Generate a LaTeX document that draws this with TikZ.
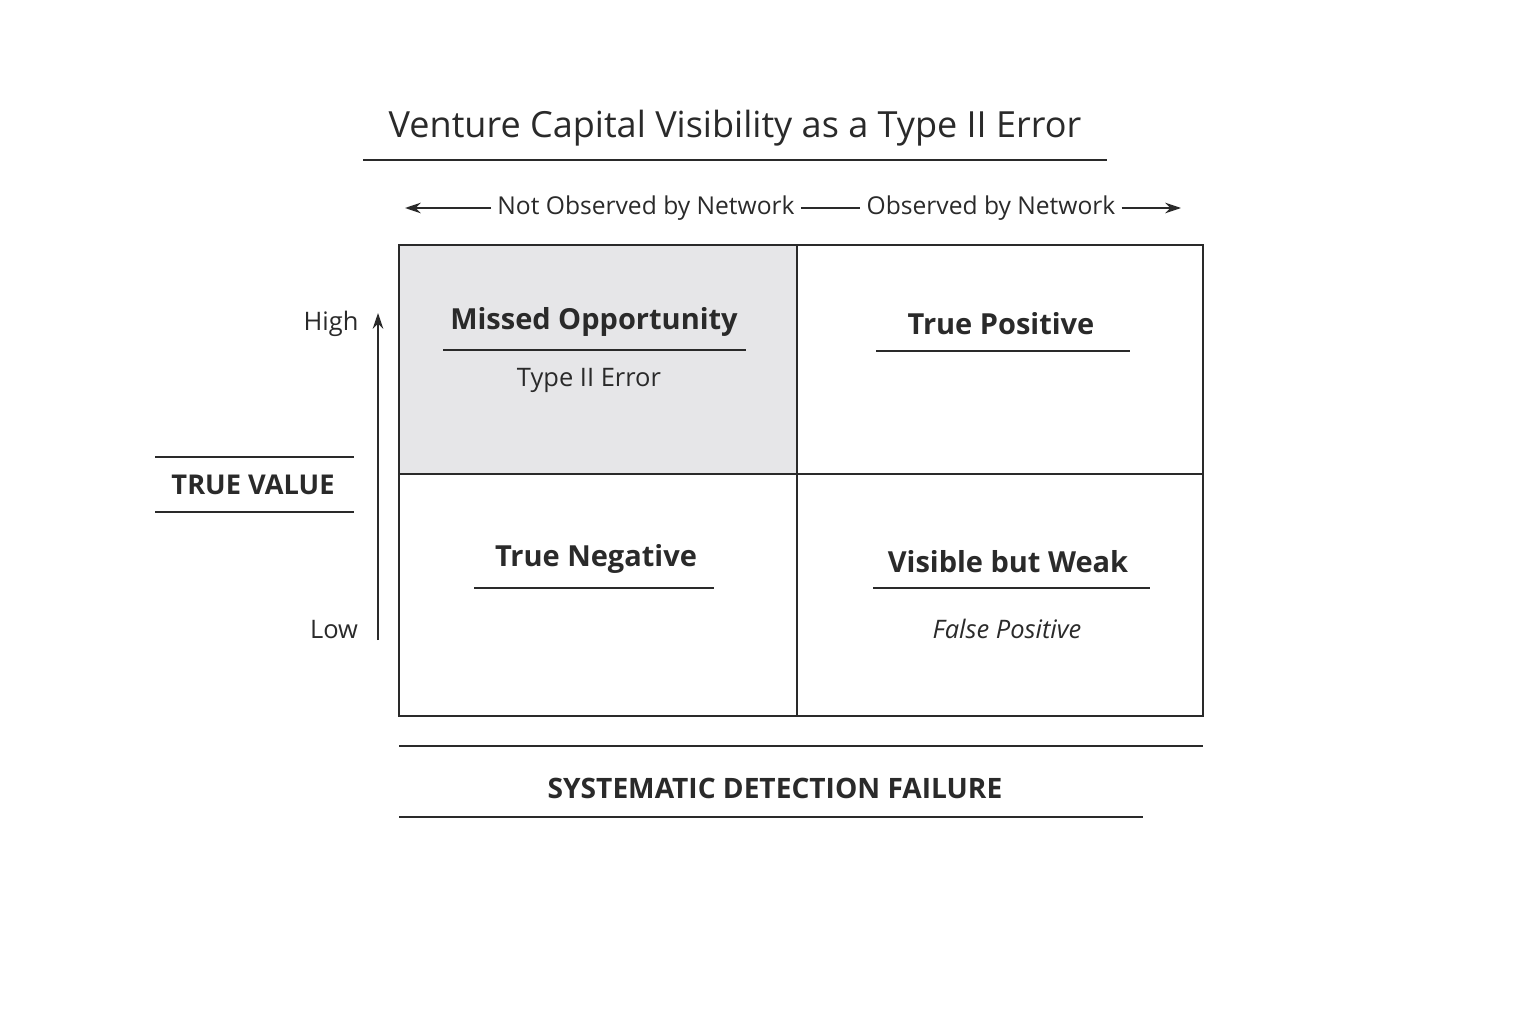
\documentclass[tikz,border=0pt]{standalone}
\usepackage{fontspec}
\setmainfont{Open Sans}
\usetikzlibrary{arrows.meta}
\definecolor{ink}{HTML}{2A2A2A}
\definecolor{cellgray}{HTML}{E6E6E8}
\begin{document}
\begin{tikzpicture}[x=0.02cm,y=-0.02cm,
  rule/.style={draw=ink,line width=0.7pt},
  head/.style={text=ink,font=\fontsize{16.5}{20}\selectfont\bfseries},
  sub/.style={text=ink,font=\fontsize{14.5}{17}\selectfont},
  ax/.style={text=ink,font=\fontsize{14.5}{17}\selectfont},
  arr/.style={draw=ink,line width=1pt,-{Stealth[length=9pt,width=6pt]}}]
\path[fill=white] (0,0) rectangle (1536,1024);
\useasboundingbox (0,0) rectangle (1536,1024);
% title
\node[text=ink,font=\fontsize{20.5}{24}\selectfont] (title) at (735,128) {Venture Capital Visibility as a Type II Error};
\draw[rule] (363,160) -- (1107,160);
% top axis
\node[ax,font=\fontsize{14}{17}\selectfont] (nobs) at (646,208) {Not Observed by Network};
\node[ax,font=\fontsize{14}{17}\selectfont] (obs) at (991,208) {Observed by Network};
\coordinate (la) at (405,208); \coordinate (ra) at (1181,208);
\draw[arr] (nobs.west) -- (la);
\draw[arr] (obs.east) -- (ra);
\draw[draw=ink,line width=1pt] (nobs.east) -- (obs.west);
% grid
\fill[cellgray] (399,245) rectangle (797,474);
\draw[draw=ink,line width=1.3pt] (399,245) rectangle (1203,716);
\draw[draw=ink,line width=1.3pt] (797,245) -- (797,716);
\draw[draw=ink,line width=1.3pt] (399,474) -- (1203,474);
% vertical axis
\coordinate (vlo) at (378,640); \coordinate (vhi) at (378,313);
\draw[arr] (vlo) -- (vhi);
\node[ax] (high) at (331,324) {High};
\node[ax] (low) at (334,630) {Low};
\node[head,font=\fontsize{15.5}{19}\selectfont\bfseries] (tv) at (253,485) {TRUE VALUE};
\draw[rule] (155,457) -- (354,457);
\draw[rule] (155,512) -- (354,512);
% cells
\node[head] (mo) at (594,322) {Missed Opportunity};
\draw[rule] (443,350) -- (746,350);
\node[sub] (t2) at (589,380) {Type II Error};
\node[head] (tp) at (1001,324) {True Positive};
\draw[rule] (876,351) -- (1130,351);
\node[head] (tn) at (596,559) {True Negative};
\draw[rule] (474,588) -- (714,588);
\node[head] (vw) at (1008,562) {Visible but Weak};
\draw[rule] (873,588) -- (1150,588);
\node[sub,font=\fontsize{14.5}{17}\selectfont\itshape] (fp) at (1007,629) {False Positive};
% bottom
\draw[rule] (399,746) -- (1203,746);
\node[head,font=\fontsize{16}{19}\selectfont\bfseries] (sdf) at (775,788) {SYSTEMATIC DETECTION FAILURE};
\draw[rule] (399,817) -- (1143,817);
\end{tikzpicture}
\end{document}
